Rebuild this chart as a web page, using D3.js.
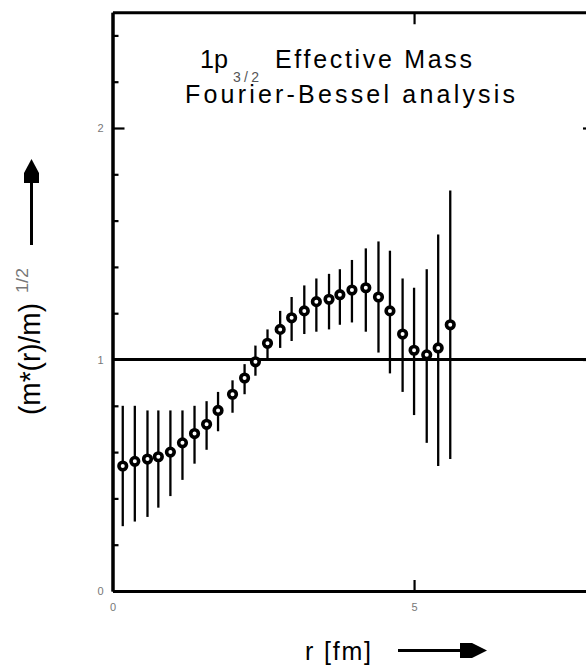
<!DOCTYPE html>
<html>
<head>
<meta charset="utf-8">
<script src="https://cdn.jsdelivr.net/npm/d3@7"></script>
<style>
  html, body { margin: 0; padding: 0; background: #fff; }
  svg { display: block; font-family: "Liberation Sans", Arial, Helvetica, sans-serif; }
</style>
</head>
<body>
<svg id="chart" width="586" height="666"></svg>
<script>
// Radial sample points r [fm]
const rValues = [0.17, 0.37, 0.58, 0.76, 0.96, 1.16, 1.36, 1.56, 1.75, 1.99,
                 2.19, 2.37, 2.57, 2.78, 2.97, 3.18, 3.38, 3.59, 3.77, 3.97,
                 4.20, 4.41, 4.60, 4.81, 5.00, 5.21, 5.40, 5.60];
// (m*(r)/m)^(1/2) central values
const massValues = [0.54, 0.56, 0.57, 0.58, 0.60, 0.64, 0.68, 0.72, 0.78, 0.85,
                    0.92, 0.99, 1.07, 1.13, 1.18, 1.21, 1.25, 1.26, 1.28, 1.30,
                    1.31, 1.27, 1.21, 1.11, 1.04, 1.02, 1.05, 1.15];
// lower / upper ends of the error bars
const lowValues  = [0.28, 0.30, 0.32, 0.36, 0.41, 0.48, 0.55, 0.61, 0.69, 0.77,
                    0.85, 0.93, 1.00, 1.05, 1.08, 1.11, 1.12, 1.13, 1.15, 1.16,
                    1.12, 1.03, 0.94, 0.86, 0.76, 0.64, 0.54, 0.57];
const highValues = [0.80, 0.80, 0.78, 0.78, 0.78, 0.78, 0.80, 0.82, 0.86, 0.91,
                    0.98, 1.06, 1.13, 1.21, 1.27, 1.32, 1.35, 1.37, 1.39, 1.43,
                    1.48, 1.51, 1.47, 1.35, 1.31, 1.39, 1.54, 1.73];

const xTickValues = [0, 5];
const yTickValues = [0, 1, 2];
const yMinorTicks = [0.2, 0.4, 0.6, 0.8, 1.2, 1.4, 1.6, 1.8, 2.2, 2.4];
const referenceLevel = 1;

const svg = d3.select("#chart");
const plotLeft = 112.5, plotRight = 595, plotTop = 12.25, plotBottom = 591;

const x = d3.scaleLinear().domain([0, 8]).range([plotLeft, plotRight]);
const y = d3.scaleLinear().domain([0, 2.5]).range([plotBottom, plotTop]);

function styleAxis(g, width) {
  g.select(".domain").attr("stroke", "#000").attr("stroke-width", width);
  g.selectAll(".tick line").attr("stroke", "#000").attr("stroke-width", 2.2);
}

// frame: bottom, top, left, right
const bottomAxis = svg.append("g").attr("transform", `translate(0,${plotBottom})`)
  .call(d3.axisBottom(x).tickValues([5]).tickSize(-11).tickSizeOuter(0).tickFormat(""));
styleAxis(bottomAxis, 3);
const topAxis = svg.append("g").attr("transform", `translate(0,${plotTop})`)
  .call(d3.axisTop(x).tickValues([5]).tickSize(-12).tickSizeOuter(0).tickFormat(""));
styleAxis(topAxis, 3);
const leftMinor = svg.append("g").attr("transform", `translate(${plotLeft},0)`)
  .call(d3.axisLeft(y).tickValues(yMinorTicks).tickSize(-6).tickSizeOuter(0).tickFormat(""));
styleAxis(leftMinor, 3);
const leftMajor = svg.append("g").attr("transform", `translate(${plotLeft},0)`)
  .call(d3.axisLeft(y).tickValues([2]).tickSize(-12).tickSizeOuter(0).tickFormat(""));
styleAxis(leftMajor, 3);
const rightAxis = svg.append("g").attr("transform", `translate(${plotRight},0)`)
  .call(d3.axisRight(y).tickValues([1, 2]).tickSize(-12).tickSizeOuter(0).tickFormat(""));
styleAxis(rightAxis, 3);

// tick labels
const yLabels = svg.append("g").attr("transform", `translate(${plotLeft},0)`)
  .call(d3.axisLeft(y).tickValues(yTickValues).tickSize(0).tickPadding(9).tickFormat(d3.format("d")));
yLabels.select(".domain").remove();
yLabels.selectAll("text").attr("font-size", 11).attr("fill", "#777")
  .attr("font-family", "Liberation Sans, Arial, sans-serif");

const xLabels = svg.append("g").attr("transform", `translate(0,${plotBottom})`)
  .call(d3.axisBottom(x).tickValues(xTickValues).tickSize(0).tickPadding(12).tickFormat(d3.format("d")));
xLabels.select(".domain").remove();
xLabels.selectAll("text").attr("font-size", 11).attr("fill", "#777")
  .attr("font-family", "Liberation Sans, Arial, sans-serif");

// horizontal reference line at 1
svg.append("line")
  .attr("x1", x(0)).attr("x2", x(8))
  .attr("y1", y(referenceLevel)).attr("y2", y(referenceLevel))
  .attr("stroke", "#000").attr("stroke-width", 3);

// error bars
const points = rValues.map((r, i) => ({ r, m: massValues[i], lo: lowValues[i], hi: highValues[i] }));
svg.append("g").selectAll("line").data(points).join("line")
  .attr("x1", d => x(d.r)).attr("x2", d => x(d.r))
  .attr("y1", d => y(d.lo)).attr("y2", d => y(d.hi))
  .attr("stroke", "#000").attr("stroke-width", 2.3);

// markers
svg.append("g").selectAll("circle").data(points).join("circle")
  .attr("cx", d => x(d.r)).attr("cy", d => y(d.m))
  .attr("r", 3.8)
  .attr("fill", "#fff").attr("stroke", "#000").attr("stroke-width", 3.6);

// title
const title = svg.append("g").attr("fill", "#000");
title.append("text").attr("x", 200).attr("y", 68).attr("font-size", 25)
  .attr("textLength", 28).attr("lengthAdjust", "spacingAndGlyphs").text("1p");
title.append("text").attr("x", 233).attr("y", 82).attr("font-size", 14).attr("fill", "#555")
  .attr("textLength", 26).attr("lengthAdjust", "spacing").text("3/2");
title.append("text").attr("x", 275).attr("y", 68).attr("font-size", 25)
  .attr("textLength", 197).attr("lengthAdjust", "spacing").text("Effective Mass");
title.append("text").attr("x", 185).attr("y", 103).attr("font-size", 25)
  .attr("textLength", 330).attr("lengthAdjust", "spacing").text("Fourier-Bessel analysis");

// x axis title with arrow
svg.append("text").attr("x", 305).attr("y", 660).attr("font-size", 25)
  .attr("textLength", 66).attr("lengthAdjust", "spacing").text("r [fm]");
svg.append("line").attr("x1", 398).attr("x2", 470).attr("y1", 650.5).attr("y2", 650.5)
  .attr("stroke", "#000").attr("stroke-width", 3);
svg.append("polygon").attr("points", "460,643 472,643 487,650.5 472,658 460,658").attr("fill", "#000");

// y axis title with arrow
svg.append("text").attr("transform", "translate(40,415) rotate(-90)").attr("font-size", 29)
  .attr("textLength", 112).attr("lengthAdjust", "spacingAndGlyphs").text("(m*(r)/m)");
svg.append("text").attr("transform", "translate(28,293) rotate(-90)").attr("font-size", 16).attr("fill", "#777")
  .attr("textLength", 25).attr("lengthAdjust", "spacingAndGlyphs").text("1/2");
svg.append("line").attr("x1", 31.5).attr("x2", 31.5).attr("y1", 245).attr("y2", 175)
  .attr("stroke", "#000").attr("stroke-width", 3);
svg.append("polygon").attr("points", "31.5,159 39,173 39,183 24,183 24,173").attr("fill", "#000");
</script>
</body>
</html>
